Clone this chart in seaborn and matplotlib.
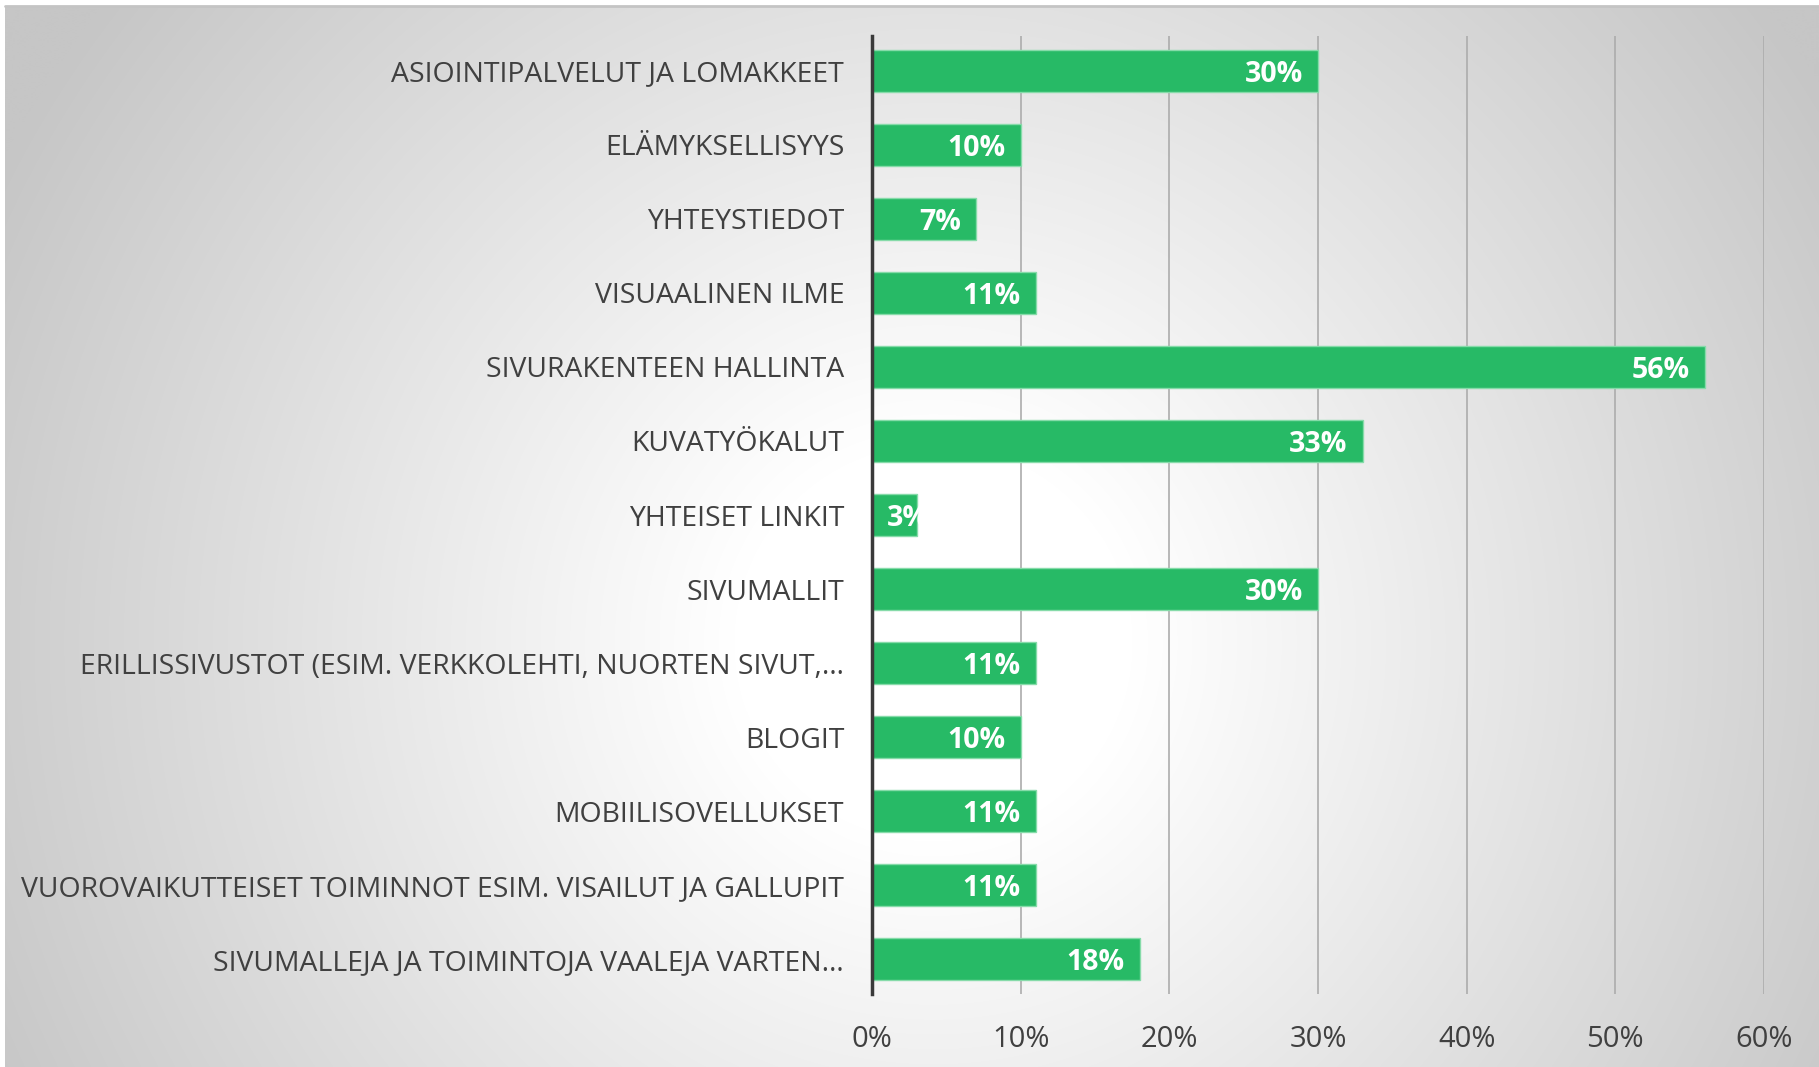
import numpy as np
import pandas as pd
import seaborn as sns
import matplotlib.pyplot as plt

# data
categories = [
    "ASIOINTIPALVELUT JA LOMAKKEET",
    "ELÄMYKSELLISYYS",
    "YHTEYSTIEDOT",
    "VISUAALINEN ILME",
    "SIVURAKENTEEN HALLINTA",
    "KUVATYÖKALUT",
    "YHTEISET LINKIT",
    "SIVUMALLIT",
    "ERILLISSIVUSTOT (ESIM. VERKKOLEHTI, NUORTEN SIVUT,…",
    "BLOGIT",
    "MOBIILISOVELLUKSET",
    "VUOROVAIKUTTEISET TOIMINNOT ESIM. VISAILUT JA GALLUPIT",
    "SIVUMALLEJA JA TOIMINTOJA VAALEJA VARTEN…",
]
values = [30, 10, 7, 11, 56, 33, 3, 30, 11, 10, 11, 11, 18]
xticks = [0, 10, 20, 30, 40, 50, 60]

df = pd.DataFrame({"cat": categories, "val": values})

sns.set_style("white")
plt.rcParams['font.family'] = ['Open Sans', 'DejaVu Sans']

W, H = 1819, 1067
fig = plt.figure(figsize=(W / 100, H / 100), dpi=100)

# radial grey background (white in the middle, grey to the edges)
bg = fig.add_axes([5 / W, 0, 1 - 5 / W, 1 - 6 / H])
yy, xx = np.mgrid[0:H, 0:W]
d = np.hypot(xx - 930, yy - 640)
t = np.clip((d - 200) / 850, 0, 1)
shade = (255 - 57 * t) / 255
bg.imshow(np.dstack([shade] * 3), aspect="auto", extent=[0, 1, 0, 1])
bg.set_axis_off()
fig.add_artist(plt.Line2D([5 / W, 1], [1 - 6 / H] * 2, color="#c4c4c4", lw=2))

ax = fig.add_axes([872 / W, 73 / H, (1764 - 872) / W, (1031 - 73) / H])
ax.patch.set_alpha(0)
sns.barplot(data=df, x="val", y="cat", orient="h", color="#27ba66",
            saturation=1, width=0.57, edgecolor="#86dba9", linewidth=1, ax=ax)

ax.set_xlim(0, 60)
ax.set_ylim(len(categories) - 1 + 0.47, -0.47)
ax.set_xticks(xticks)
ax.set_xticklabels([f"{v}%" for v in xticks])
ax.xaxis.grid(True, color="#acacac", lw=1.2)
ax.set_axisbelow(True)
for s in ["top", "right", "bottom"]:
    ax.spines[s].set_visible(False)
ax.spines["left"].set_color("#3a3a3a")
ax.spines["left"].set_linewidth(2.5)
ax.tick_params(axis="x", length=0, pad=22, labelsize=21, labelcolor="#404040")
ax.tick_params(axis="y", length=0, pad=20, labelsize=20.4, labelcolor="#404040")
ax.set_xlabel("")
ax.set_ylabel("")

# value labels inside bar ends, clipped to the bar like the original
for patch, v in zip(ax.patches, values):
    y = patch.get_y() + patch.get_height() / 2
    txt = ax.text(v - 1.0, y, f"{v}%", ha="right", va="center_baseline",
                  color="white", fontsize=20.5, fontweight="bold")
    if v < 5:
        txt.set_ha("left")
        txt.set_x(1.0)
        txt.set_clip_path(patch)

fig.savefig("out.png", dpi=100)
